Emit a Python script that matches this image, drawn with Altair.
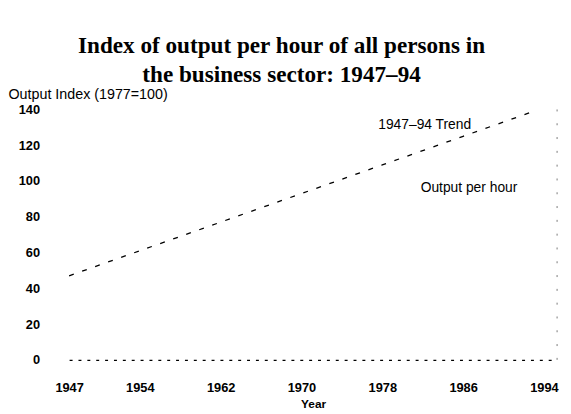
import altair as alt
import pandas as pd

# Trend line values
trend_years = [1947, 1954, 1962, 1970, 1978, 1986, 1993]
trend_values = [47, 61, 77, 93, 109, 125, 139]

x_ticks = [1947, 1954, 1962, 1970, 1978, 1986, 1994]
y_ticks = [0, 20, 40, 60, 80, 100, 120, 140]

labels_text = ["1947\u201394 Trend", "Output per hour"]
labels_year = [1977.6, 1981.8]
labels_value = [131.2, 95.9]

x_domain = [1947, 1995.3]
y_domain = [0, 140]

trend_df = pd.DataFrame({"Year": trend_years, "Index": trend_values})
labels_df = pd.DataFrame({"Year": labels_year, "Index": labels_value, "label": labels_text})
frame_df = pd.DataFrame({"Year": [x_domain[1]], "Index": [y_domain[0]], "Index2": [y_domain[1]]})

x_axis = alt.Axis(
    values=x_ticks, format="d", title="Year", grid=False, ticks=False,
    labelPadding=22, labelFontSize=13, labelFont="Liberation Sans", labelFontWeight="bold",
    labelColor="black", labelFlush=False, labelOverlap=False,
    titleFontSize=12, titleFont="Liberation Sans", titleFontWeight="bold", titleColor="black",
    titlePadding=4, domainDash=[3, 6], domainColor="black", domainWidth=1.2,
)
y_axis = alt.Axis(
    values=y_ticks, title="Output Index (1977=100)", grid=False, ticks=False, domain=False,
    labelPadding=30, labelFontSize=13, labelFont="Liberation Sans", labelFontWeight="bold",
    labelColor="black", labelOverlap=False,
    titleAngle=0, titleAlign="left", titleBaseline="middle", titleX=-62, titleY=-15,
    titleFontSize=14.5, titleFont="Liberation Sans", titleFontWeight="normal", titleColor="black",
)
x_scale = alt.Scale(domain=x_domain, nice=False, zero=False)
y_scale = alt.Scale(domain=y_domain, nice=False)

x_enc = alt.X("Year:Q", scale=x_scale, axis=x_axis)
y_enc = alt.Y("Index:Q", scale=y_scale, axis=y_axis)

trend = alt.Chart(trend_df).mark_line(
    color="black", strokeWidth=1.3, strokeDash=[5, 9]
).encode(x=x_enc, y=y_enc)

frame = alt.Chart(frame_df).mark_rule(
    color="#777777", strokeWidth=1, strokeDash=[2, 12]
).encode(x=x_enc, y=y_enc, y2="Index2:Q")

labels = alt.Chart(labels_df).mark_text(
    align="left", baseline="middle", fontSize=14, font="Liberation Sans", color="black"
).encode(x=x_enc, y=y_enc, text="label:N")

chart = alt.layer(trend, frame, labels).properties(
    width=495,
    height=254,
    padding={"left": 62, "top": 100, "right": 6, "bottom": 52},
    autosize=alt.AutoSizeParams(type="none"),
    title=alt.TitleParams(
        text=["Index of output per hour of all persons in", "the business sector:  1947\u201394"],
        font="Liberation Serif", fontSize=23.5, fontWeight="bold", color="black",
        anchor="middle", frame="group", dx=-32, lineHeight=30, offset=0,
    ),
).configure_view(stroke=None).configure_axis(labelOverlap=False)

chart.save("out.html", embed_options={"renderer": "svg", "actions": False})
